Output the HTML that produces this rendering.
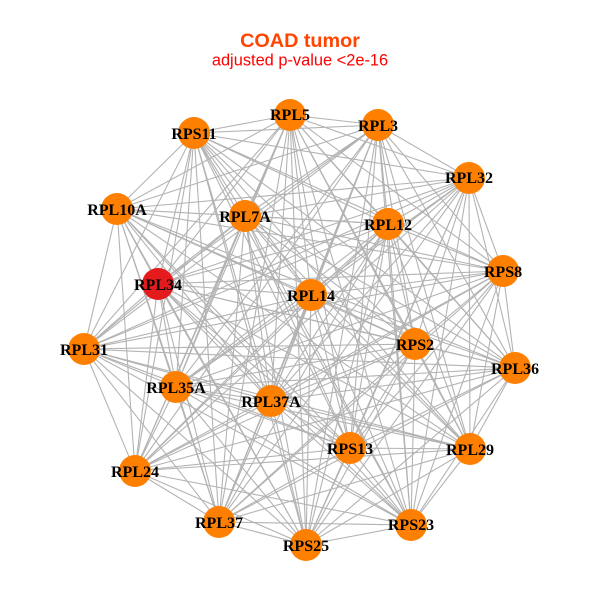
<!DOCTYPE html>
<html>
<head>
<meta charset="utf-8">
<style>
html,body{margin:0;padding:0;background:#fff;width:600px;height:600px;overflow:hidden}
svg{display:block}
.l{font-family:"Liberation Serif",serif;font-weight:bold;font-size:16px;fill:#000;text-anchor:middle}
.t{font-family:"Liberation Sans",sans-serif;text-anchor:middle}
</style>
</head>
<body>
<svg width="600" height="600" viewBox="0 0 600 600" xmlns="http://www.w3.org/2000/svg">
<rect width="600" height="600" fill="#fff"/>
<g fill="none" stroke="#b3b3b3" stroke-width="1.1">
<path d="M194 133L290 115 194 133 378 125 194 133 469 178 194 133 503 271 194 133 515 368 194 133 470 449 194 133 411 525 194 133 306 545 194 133 219 522 194 133 135 471 194 133 84 349 194 133 117 209 194 133 245 216 194 133 158 284 194 133 388 224 194 133 311 295 194 133 415 344 194 133 176 387 194 133 271 401 194 133 350 448"/>
<path d="M290 115L378 125 290 115 469 178 290 115 503 271 290 115 515 368 290 115 470 449 290 115 411 525 290 115 306 545 290 115 219 522 290 115 135 471 290 115 84 349 290 115 117 209 290 115 245 216 290 115 158 284 290 115 388 224 290 115 311 295 290 115 415 344 290 115 176 387 290 115 271 401 290 115 350 448"/>
<path d="M378 125L469 178 378 125 503 271 378 125 515 368 378 125 470 449 378 125 411 525 378 125 306 545 378 125 219 522 378 125 135 471 378 125 84 349 378 125 117 209 378 125 245 216 378 125 158 284 378 125 388 224 378 125 311 295 378 125 415 344 378 125 176 387 378 125 271 401 378 125 350 448"/>
<path d="M469 178L503 271 469 178 515 368 469 178 470 449 469 178 411 525 469 178 306 545 469 178 219 522 469 178 135 471 469 178 84 349 469 178 117 209 469 178 245 216 469 178 158 284 469 178 388 224 469 178 311 295 469 178 415 344 469 178 176 387 469 178 271 401 469 178 350 448"/>
<path d="M503 271L515 368 503 271 470 449 503 271 411 525 503 271 306 545 503 271 219 522 503 271 135 471 503 271 84 349 503 271 117 209 503 271 245 216 503 271 158 284 503 271 388 224 503 271 311 295 503 271 415 344 503 271 176 387 503 271 271 401 503 271 350 448"/>
<path d="M515 368L470 449 515 368 411 525 515 368 306 545 515 368 219 522 515 368 135 471 515 368 84 349 515 368 117 209 515 368 245 216 515 368 158 284 515 368 388 224 515 368 311 295 515 368 415 344 515 368 176 387 515 368 271 401 515 368 350 448"/>
<path d="M470 449L411 525 470 449 306 545 470 449 219 522 470 449 135 471 470 449 84 349 470 449 117 209 470 449 245 216 470 449 158 284 470 449 388 224 470 449 311 295 470 449 415 344 470 449 176 387 470 449 271 401 470 449 350 448"/>
<path d="M411 525L306 545 411 525 219 522 411 525 135 471 411 525 84 349 411 525 117 209 411 525 245 216 411 525 158 284 411 525 388 224 411 525 311 295 411 525 415 344 411 525 176 387 411 525 271 401 411 525 350 448"/>
<path d="M306 545L219 522 306 545 135 471 306 545 84 349 306 545 117 209 306 545 245 216 306 545 158 284 306 545 388 224 306 545 311 295 306 545 415 344 306 545 176 387 306 545 271 401 306 545 350 448"/>
<path d="M219 522L135 471 219 522 84 349 219 522 117 209 219 522 245 216 219 522 158 284 219 522 388 224 219 522 311 295 219 522 415 344 219 522 176 387 219 522 271 401 219 522 350 448"/>
<path d="M135 471L84 349 135 471 117 209 135 471 245 216 135 471 158 284 135 471 388 224 135 471 311 295 135 471 415 344 135 471 176 387 135 471 271 401 135 471 350 448"/>
<path d="M84 349L117 209 84 349 245 216 84 349 158 284 84 349 388 224 84 349 311 295 84 349 415 344 84 349 176 387 84 349 271 401 84 349 350 448"/>
<path d="M117 209L245 216 117 209 158 284 117 209 388 224 117 209 311 295 117 209 415 344 117 209 176 387 117 209 271 401 117 209 350 448"/>
<path d="M245 216L158 284 245 216 388 224 245 216 311 295 245 216 415 344 245 216 176 387 245 216 271 401 245 216 350 448"/>
<path d="M158 284L388 224 158 284 311 295 158 284 415 344 158 284 176 387 158 284 271 401 158 284 350 448"/>
<path d="M388 224L311 295 388 224 415 344 388 224 176 387 388 224 271 401 388 224 350 448"/>
<path d="M311 295L415 344 311 295 176 387 311 295 271 401 311 295 350 448"/>
<path d="M415 344L176 387 415 344 271 401 415 344 350 448"/>
<path d="M176 387L271 401 176 387 350 448"/>
<path d="M271 401L350 448"/>
</g>
<g fill="#ff7f00">
<circle cx="194" cy="133" r="16"/>
<circle cx="290" cy="115" r="16"/>
<circle cx="378" cy="125" r="16"/>
<circle cx="469" cy="178" r="16"/>
<circle cx="503" cy="271" r="16"/>
<circle cx="515" cy="368" r="16"/>
<circle cx="470" cy="449" r="16"/>
<circle cx="411" cy="525" r="16"/>
<circle cx="306" cy="545" r="16"/>
<circle cx="219" cy="522" r="16"/>
<circle cx="135" cy="471" r="16"/>
<circle cx="84" cy="349" r="16"/>
<circle cx="117" cy="209" r="16"/>
<circle cx="245" cy="216" r="16"/>
<circle cx="158" cy="284" r="16" fill="#e41a1c"/>
<circle cx="388" cy="224" r="16"/>
<circle cx="311" cy="295" r="16"/>
<circle cx="415" cy="344" r="16"/>
<circle cx="176" cy="387" r="16"/>
<circle cx="271" cy="401" r="16"/>
<circle cx="350" cy="448" r="16"/>
</g>
<g class="l">
<text class="l" x="194" y="139">RPS11</text>
<text class="l" x="290" y="120">RPL5</text>
<text class="l" x="378" y="131">RPL3</text>
<text class="l" x="469" y="183">RPL32</text>
<text class="l" x="503" y="277">RPS8</text>
<text class="l" x="515" y="374">RPL36</text>
<text class="l" x="470" y="455">RPL29</text>
<text class="l" x="411" y="530">RPS23</text>
<text class="l" x="306" y="551">RPS25</text>
<text class="l" x="219" y="528">RPL37</text>
<text class="l" x="135" y="477">RPL24</text>
<text class="l" x="84" y="355">RPL31</text>
<text class="l" x="117" y="215">RPL10A</text>
<text class="l" x="245" y="222">RPL7A</text>
<text class="l" x="158" y="290">RPL34</text>
<text class="l" x="388" y="230">RPL12</text>
<text class="l" x="311" y="301">RPL14</text>
<text class="l" x="415" y="350">RPS2</text>
<text class="l" x="176" y="393">RPL35A</text>
<text class="l" x="271" y="407">RPL37A</text>
<text class="l" x="350" y="454">RPS13</text>
</g>
<text class="t" x="300" y="47" font-size="19.8" font-weight="bold" fill="#ff4500">COAD tumor</text>
<text class="t" x="300" y="65.500" font-size="16.4" fill="#ff0000">adjusted p-value &lt;2e-16</text>
</svg>
</body>
</html>
